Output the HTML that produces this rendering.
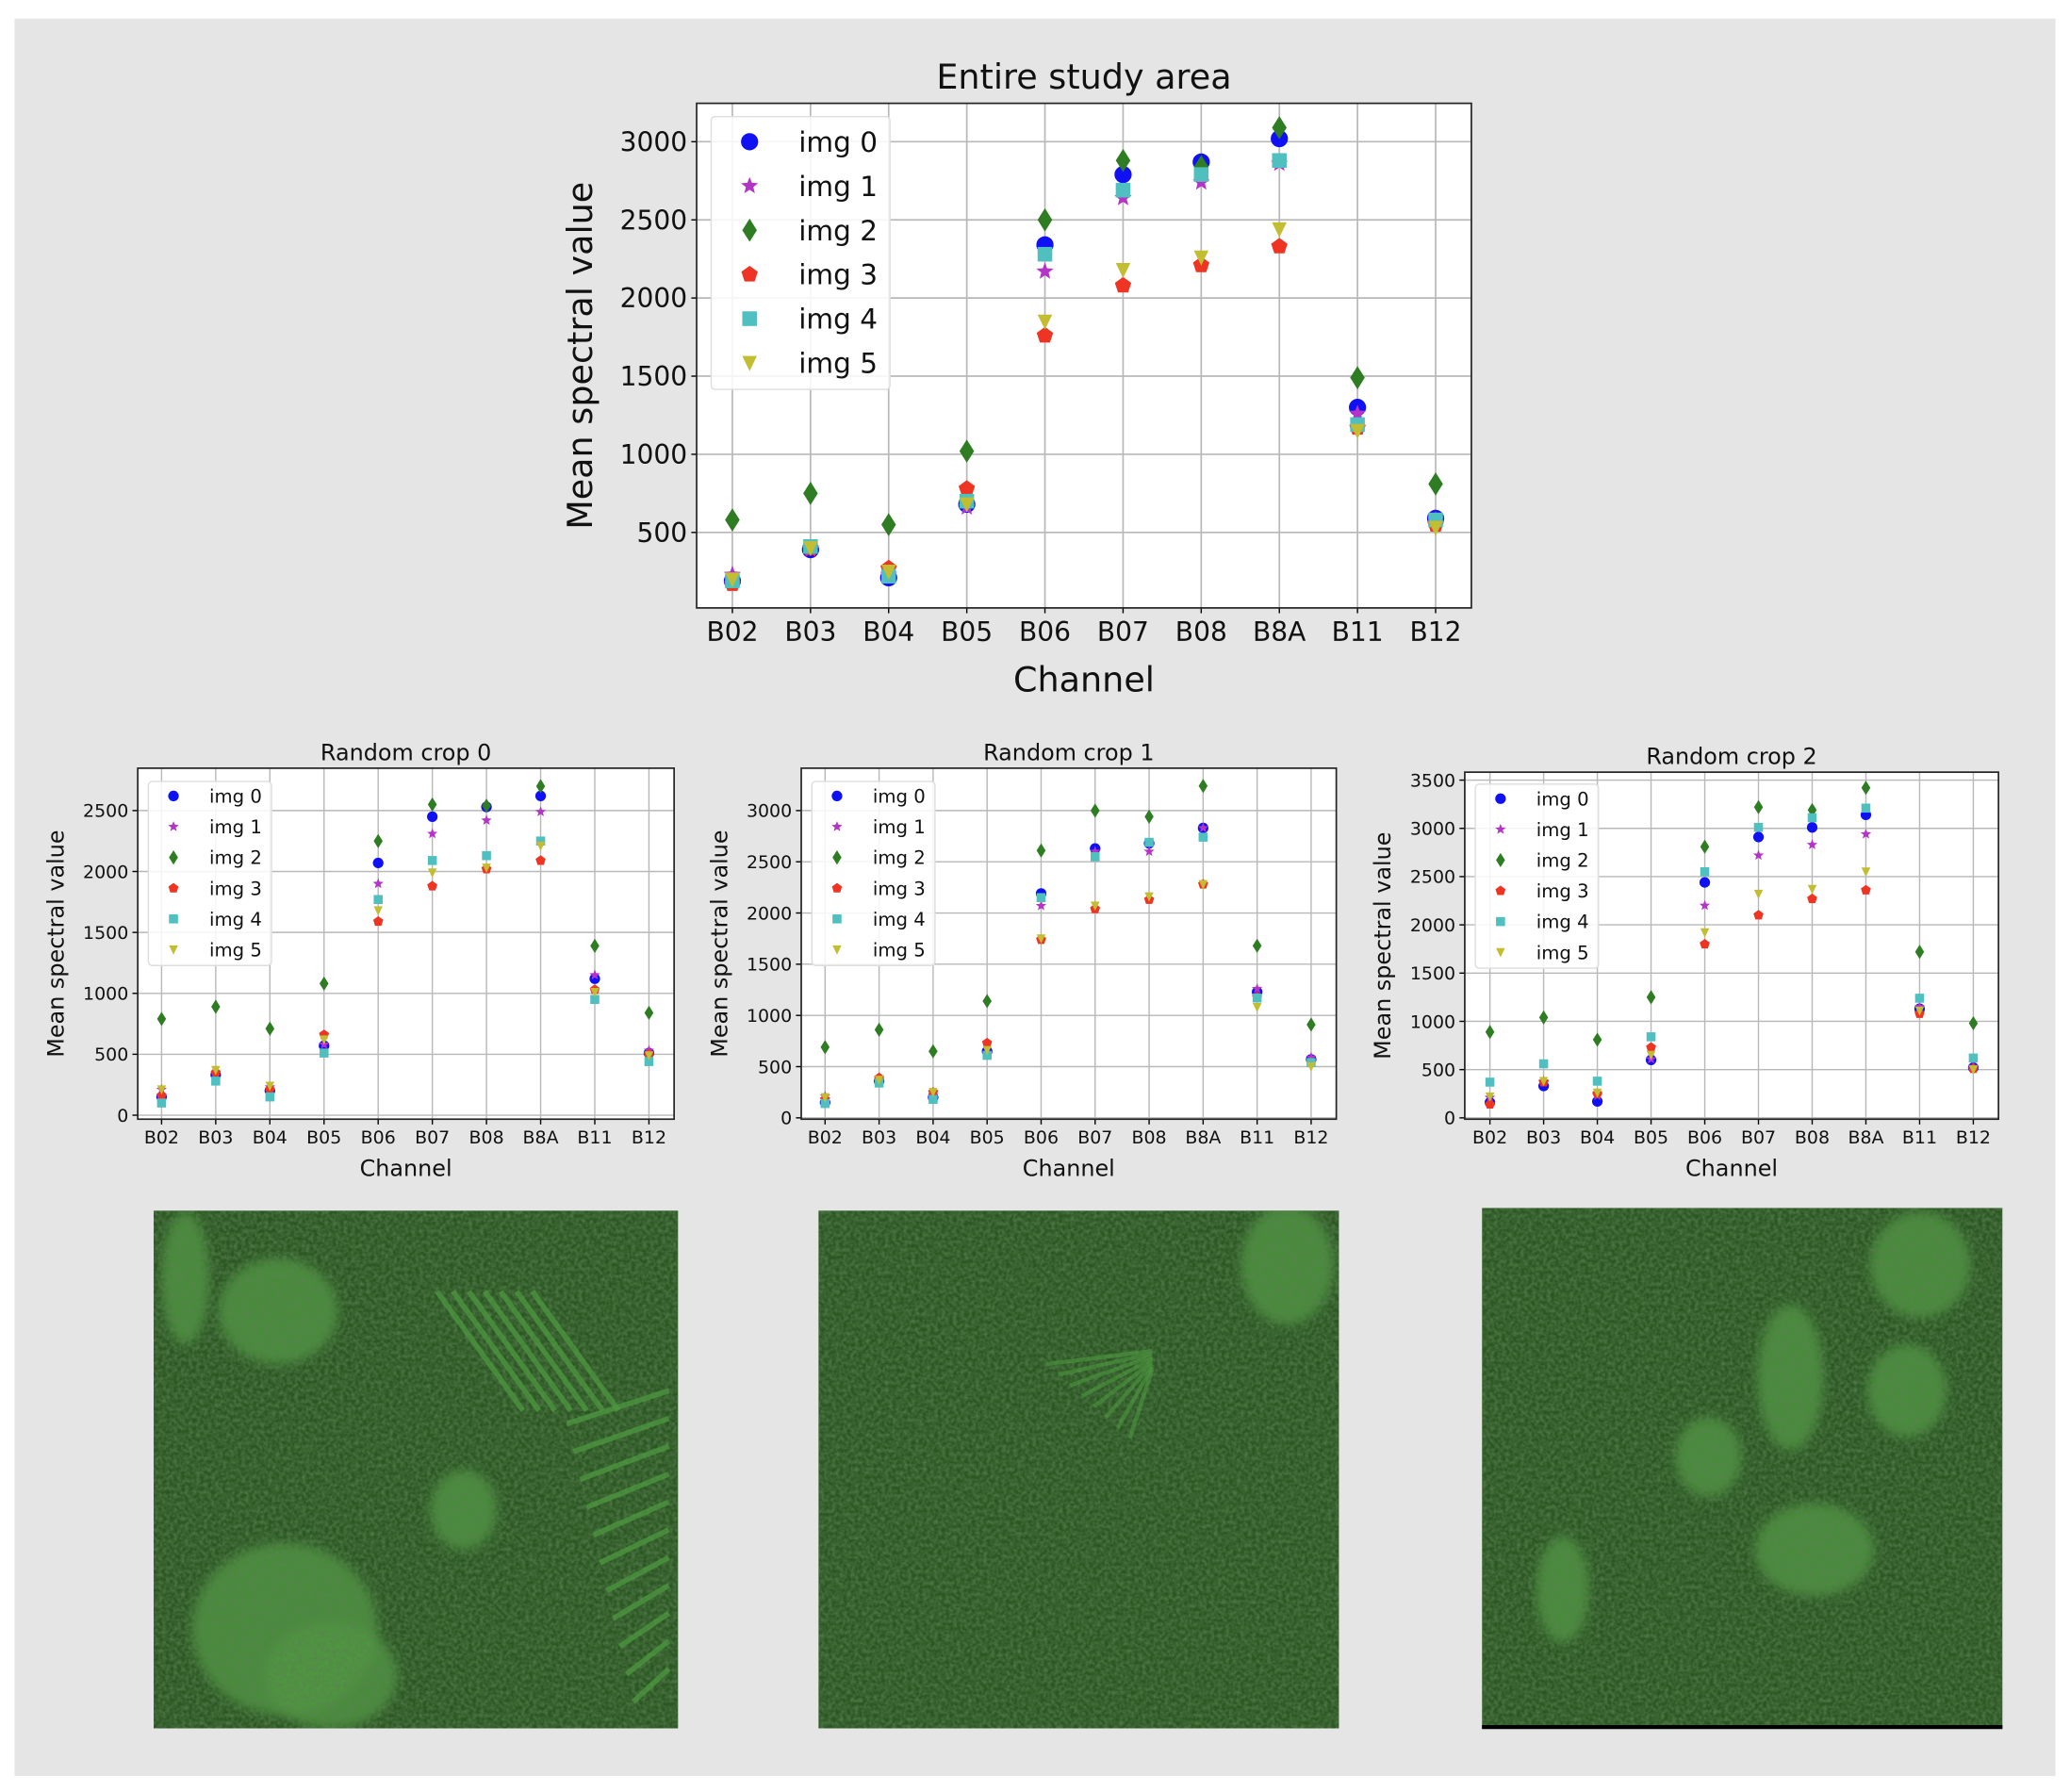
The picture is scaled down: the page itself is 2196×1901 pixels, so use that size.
<!DOCTYPE html>
<html><head><meta charset="utf-8">
<style>
html,body{margin:0;padding:0;background:#fff;}
svg{display:block;}
text{font-family:"DejaVu Sans","Liberation Sans",sans-serif;fill:#111;}
</style></head>
<body>
<svg id="s" width="2196" height="1901" viewBox="0 0 1563 1353" preserveAspectRatio="none" xmlns="http://www.w3.org/2000/svg">
<defs>
<filter id="tex" x="0" y="0" width="100%" height="100%">
<feTurbulence type="fractalNoise" baseFrequency="0.35" numOctaves="2" seed="3"/>
<feColorMatrix values="0 0 0 0 0.10  0 0 0 0 0.22  0 0 0 0 0.08  0 0 0 1.3 -0.35"/>
</filter>
<filter id="blur"><feGaussianBlur stdDeviation="4"/></filter>
<clipPath id="c0"><rect x="116" y="914" width="396" height="391"/></clipPath>
<clipPath id="c1"><rect x="618" y="914" width="393" height="391"/></clipPath>
<clipPath id="c2"><rect x="1119" y="912" width="393" height="393"/></clipPath>
</defs>
<rect x="11" y="14" width="1541" height="1327" fill="#e5e5e5"/>
<g id="charts"></g>
<g id="imgs"></g>
</svg>
<script>
const NS="http://www.w3.org/2000/svg";
const root=document.getElementById('charts');
function el(t,a,p){const e=document.createElementNS(NS,t);for(const k in a)e.setAttribute(k,a[k]);(p||root).appendChild(e);return e;}
function txt(x,y,s,size,anchor,p,rot){const e=el('text',{x:x,y:y,'font-size':size,'text-anchor':anchor||'middle'},p);if(rot)e.setAttribute('transform',`rotate(-90 ${x} ${y})`);e.textContent=s;return e;}
const cols=['#1010f5','#b534c8','#2e7d22','#ee3524','#50bfc0','#c3bd32'];
const labs=['B02','B03','B04','B05','B06','B07','B08','B8A','B11','B12'];
function marker(k,x,y,r,p){
 const c=cols[k];
 if(k==0) el('circle',{cx:x,cy:y,r:r,fill:c},p);
 else if(k==1){let pts=[];for(let i=0;i<10;i++){const a=-Math.PI/2+i*Math.PI/5,rr=i%2?r*0.45:r*1.05;pts.push((x+rr*Math.cos(a)).toFixed(1)+','+(y+rr*Math.sin(a)).toFixed(1));}el('polygon',{points:pts.join(' '),fill:c},p);}
 else if(k==2) el('polygon',{points:`${x},${y-r*1.35} ${x+r*0.85},${y} ${x},${y+r*1.35} ${x-r*0.85},${y}`,fill:c},p);
 else if(k==3){let pts=[];for(let i=0;i<5;i++){const a=-Math.PI/2+i*2*Math.PI/5;pts.push((x+r*Math.cos(a)).toFixed(1)+','+(y+r*Math.sin(a)).toFixed(1));}el('polygon',{points:pts.join(' '),fill:c},p);}
 else if(k==4) el('rect',{x:x-r*0.85,y:y-r*0.85,width:r*1.7,height:r*1.7,fill:c},p);
 else el('polygon',{points:`${x-r*0.85},${y-r*0.8} ${x+r*0.85},${y-r*0.8} ${x},${y+r*0.95}`,fill:c},p);
}
function chart(o){
 const g=el('g',{});
 el('rect',{x:o.x0,y:o.y0,width:o.x1-o.x0,height:o.y1-o.y0,fill:'#fff'},g);
 const Y=v=>o.ya+(v-o.va)*(o.yb-o.ya)/(o.vb-o.va);
 const X=i=>o.xa+i*(o.xb-o.xa)/9;
 for(const t of o.ticks){const y=Y(t);el('line',{x1:o.x0,x2:o.x1,y1:y,y2:y,stroke:'#b8b8b8','stroke-width':o.gw},g);el('line',{x1:o.x0-4,x2:o.x0,y1:y,y2:y,stroke:'#000','stroke-width':1},g);txt(o.x0-7,y+o.fs*0.36,String(t),o.fs,'end',g);}
 for(let i=0;i<10;i++){const x=X(i);el('line',{x1:x,x2:x,y1:o.y0,y2:o.y1,stroke:'#b8b8b8','stroke-width':o.gw},g);el('line',{x1:x,x2:x,y1:o.y1,y2:o.y1+4,stroke:'#000'},g);txt(x,o.y1+o.fs+5,labs[i],o.fs,'middle',g);}
 for(let k=0;k<6;k++)for(let i=0;i<10;i++)marker(k,X(i),Y(o.d[k][i]),o.mr,g);
 el('rect',{x:o.x0,y:o.y0,width:o.x1-o.x0,height:o.y1-o.y0,fill:'none',stroke:'#222','stroke-width':1.2},g);
 const L=o.leg;
 el('rect',{x:L.x,y:L.y,width:L.w,height:L.h,rx:3,fill:'#fff','fill-opacity':0.85,stroke:'#ddd'},g);
 for(let k=0;k<6;k++){const y=L.r0+k*L.dy;marker(k,L.mx,y,o.mr,g);txt(L.tx,y+L.fs*0.36,'img '+k,L.fs,'start',g);}
 txt((o.x0+o.x1)/2,o.ty,o.title,o.tfs,'middle',g);
 txt((o.x0+o.x1)/2,o.cy,'Channel',o.lfs,'middle',g);
 txt(o.ylx,(o.y0+o.y1)/2,'Mean spectral value',o.lfs,'middle',g,true);
}
chart({x0:526,x1:1111,y0:78,y1:459,xa:553,xb:1084,va:500,ya:402,vb:3000,yb:107,ticks:[500,1000,1500,2000,2500,3000],fs:20,gw:1.2,mr:6.5,
 title:'Entire study area',ty:67,tfs:26,cy:522,lfs:26,ylx:447,
 leg:{x:537,y:88,w:135,h:206,r0:107,dy:33.4,mx:566,tx:603,fs:21},
 d:[[190,390,210,680,2340,2790,2870,3020,1300,590],[230,390,230,660,2170,2640,2740,2860,1260,580],[580,750,550,1020,2500,2880,2840,3090,1490,810],[170,400,270,780,1760,2080,2210,2330,1170,550],[190,410,220,700,2280,2690,2790,2880,1190,580],[200,400,250,680,1850,2180,2260,2440,1150,530]]});
const small=[
 {x0:104,x1:509,y0:580,y1:845,xa:122,xb:490,ya:842,yb:612,vb:2500,ticks:[0,500,1000,1500,2000,2500],title:'Random crop 0',ty:574,lx:112,ly:590,
  d:[[150,330,200,570,2070,2450,2530,2620,1120,510],[210,340,230,580,1900,2310,2420,2490,1150,530],[790,890,710,1080,2250,2550,2540,2700,1390,840],[160,350,210,660,1590,1880,2020,2090,1030,500],[100,280,150,510,1770,2090,2130,2250,950,440],[210,370,240,620,1680,1990,2030,2210,1010,490]]},
 {x0:605,x1:1009,y0:580,y1:845,xa:623,xb:990,ya:844,yb:612,vb:3000,ticks:[0,500,1000,1500,2000,2500,3000],title:'Random crop 1',ty:574,lx:613,ly:590,
  d:[[150,360,200,650,2190,2630,2680,2830,1230,570],[210,370,220,620,2070,2600,2600,2830,1260,590],[690,860,650,1140,2610,3000,2940,3240,1680,910],[180,390,250,730,1740,2040,2130,2280,1180,540],[140,340,180,610,2150,2550,2690,2740,1170,540],[200,370,250,660,1750,2070,2160,2280,1080,500]]},
 {x0:1106,x1:1509,y0:583,y1:845,xa:1125,xb:1490,ya:844,yb:589,vb:3500,ticks:[0,500,1000,1500,2000,2500,3000,3500],title:'Random crop 2',ty:577,lx:1114,ly:592,
  d:[[160,330,170,600,2440,2910,3010,3140,1130,520],[210,380,230,610,2200,2720,2830,2940,1150,530],[890,1040,810,1250,2810,3220,3190,3420,1720,980],[140,370,250,730,1800,2100,2270,2360,1080,510],[370,560,380,840,2550,3010,3110,3210,1240,620],[220,380,260,650,1920,2320,2370,2550,1110,500]]}
];
for(const s of small){chart({x0:s.x0,x1:s.x1,y0:s.y0,y1:s.y1,xa:s.xa,xb:s.xb,va:0,ya:s.ya,vb:s.vb,yb:s.yb,ticks:s.ticks,fs:13.5,gw:1,mr:4,
 title:s.title,ty:s.ty,tfs:17,cy:888,lfs:17,ylx:s.x0-56,
 leg:{x:s.lx,y:s.ly,w:93,h:139,r0:s.ly+11,dy:23.2,mx:s.lx+19,tx:s.lx+46,fs:14},d:s.d});}
const ig0=document.getElementById('imgs');
const ims=[[116,914,396,391],[618,914,393,391],[1119,912,393,393]];
const patches=[
 [[140,965,18,50],[210,990,45,40],[215,1230,70,65],[250,1265,50,40],[350,1140,25,30]],
 [[972,955,35,45]],
 [[1450,955,38,40],[1352,1040,25,55],[1440,1050,30,35],[1370,1170,45,35],[1290,1100,25,30],[1180,1200,20,40]]
];
ims.forEach((r,i)=>{
 const [x,y,w,h]=r;
 const ig=el('g',{'clip-path':`url(#c${i})`},ig0);
 el('rect',{x:x,y:y,width:w,height:h,fill:'#2a5622'},ig);
 patches[i].forEach(p=>el('ellipse',{cx:p[0],cy:p[1],rx:p[2],ry:p[3],fill:'#4f9a40',opacity:0.8,filter:'url(#blur)'},ig));
 el('rect',{x:x,y:y,width:w,height:h,filter:'url(#tex)'},ig);
 if(i==0){
  for(let k=0;k<11;k++)el('line',{x1:428+k*5,y1:1075+k*21,x2:505,y2:1050+k*21,stroke:'#4e9840','stroke-width':4,opacity:0.75},ig);
  for(let k=0;k<7;k++)el('line',{x1:330+k*12,y1:975,x2:395+k*12,y2:1065,stroke:'#4e9840','stroke-width':4,opacity:0.75},ig);
 }
 if(i==1){for(let k=0;k<8;k++)el('line',{x1:790+k*9,y1:1030+k*8,x2:870,y2:1020+k*2,stroke:'#4e9840','stroke-width':3,opacity:0.6},ig);}
});
el('line',{x1:1119,x2:1512,y1:1304,y2:1304,stroke:'#000','stroke-width':3},ig0);
</script>
</body></html>
